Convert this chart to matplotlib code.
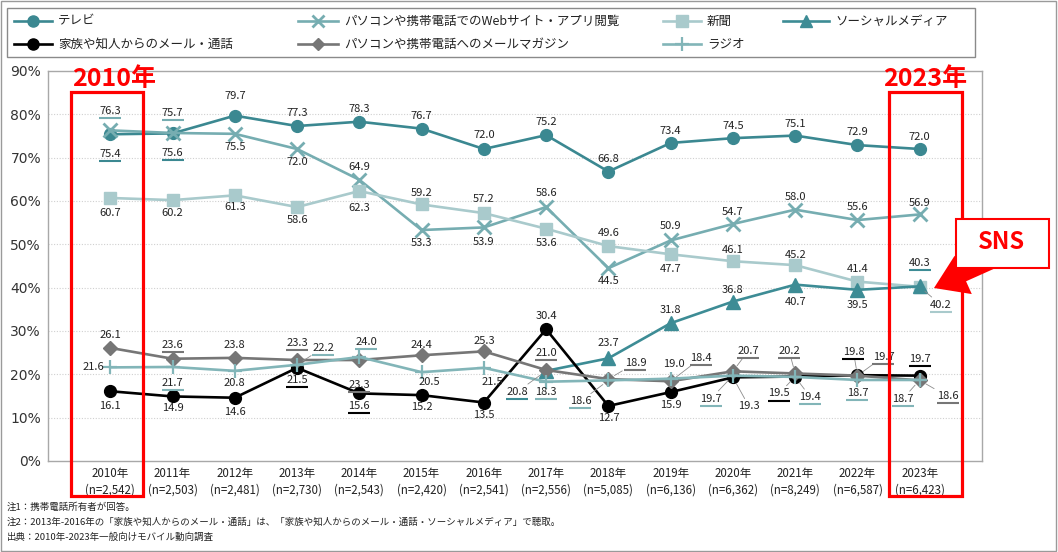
import numpy as np
import matplotlib.pyplot as plt
import matplotlib.transforms as mtransforms
from matplotlib.patches import Rectangle, FancyArrow
from matplotlib.lines import Line2D

plt.rcParams['font.family'] = ['Noto Sans CJK JP', 'DejaVu Sans']

# -----------------------------
# データ
# -----------------------------
years = ['2010年', '2011年', '2012年', '2013年', '2014年', '2015年', '2016年',
         '2017年', '2018年', '2019年', '2020年', '2021年', '2022年', '2023年']
samples = ['(n=2,542)', '(n=2,503)', '(n=2,481)', '(n=2,730)', '(n=2,543)',
           '(n=2,420)', '(n=2,541)', '(n=2,556)', '(n=5,085)', '(n=6,136)',
           '(n=6,362)', '(n=8,249)', '(n=6,587)', '(n=6,423)']

tv = [75.4, 75.6, 79.7, 77.3, 78.3, 76.7, 72.0, 75.2, 66.8, 73.4, 74.5, 75.1, 72.9, 72.0]
web = [76.3, 75.7, 75.5, 72.0, 64.9, 53.3, 53.9, 58.6, 44.5, 50.9, 54.7, 58.0, 55.6, 56.9]
paper = [60.7, 60.2, 61.3, 58.6, 62.3, 59.2, 57.2, 53.6, 49.6, 47.7, 46.1, 45.2, 41.4, 40.2]
sns_start = 7  # 2017年から
sns = [20.8, 23.7, 31.8, 36.8, 40.7, 39.5, 40.3]
mail = [16.1, 14.9, 14.6, 21.5, 15.6, 15.2, 13.5, 30.4, 12.7, 15.9, 19.3, 19.5, 19.8, 19.7]
magazine = [26.1, 23.6, 23.8, 23.3, 23.3, 24.4, 25.3, 21.0, 18.9, 18.4, 20.7, 20.2, 19.7, 18.6]
radio = [21.6, 21.7, 20.8, 22.2, 24.0, 20.5, 21.5, 18.3, 18.6, 19.0, 19.7, 19.4, 18.7, 18.7]

names = ['テレビ', 'パソコンや携帯電話でのWebサイト・アプリ閲覧', '新聞', 'ソーシャルメディア',
         '家族や知人からのメール・通話', 'パソコンや携帯電話へのメールマガジン', 'ラジオ']

notes = ['注1：携帯電話所有者が回答。',
         '注2：2013年-2016年の「家族や知人からのメール・通話」は、「家族や知人からのメール・通話・ソーシャルメディア」で聴取。',
         '出典：2010年-2023年一般向けモバイル動向調査']

# -----------------------------
# 色・マーカー
# -----------------------------
c_tv = '#3b8891'
c_web = '#76adb1'
c_paper = '#a9cacc'
c_sns = '#3d8c95'
c_mail = '#000000'
c_mag = '#767676'
c_radio = '#82b5b8'

# ラベル位置（点からのピクセルずれ）、下線、引き出し線
tv_off = [(0, -20), (0, -20), (0, 20), (0, 13), (0, 13), (0, 13), (0, 14),
          (0, 13), (0, 13), (0, 12), (0, 12), (0, 12), (0, 13), (0, 12)]
web_off = [(0, 19), (0, 20), (0, -13), (0, -13), (0, 13), (0, -13), (0, -15),
           (0, 14), (0, -13), (0, 14), (0, 12), (0, 13), (0, 13), (0, 11)]
paper_off = [(0, -15), (0, -13), (0, -12), (0, -13), (0, -17), (0, 11), (0, 14),
             (0, -14), (0, 13), (0, -15), (0, 11), (0, 10), (0, 13), (21, -18)]
sns_off = [(-29, -21), (0, 15), (0, 13), (0, 12), (0, -17), (0, -15), (0, 23)]
mail_off = [(0, -15), (0, -12), (0, -14), (0, -12), (0, -13), (0, -12), (0, -13),
            (0, 13), (0, -12), (0, -13), (16, -29), (-16, -17), (-4, 23), (0, 17)]
mag_off = [(0, 13), (0, 14), (0, 13), (0, 17), (0, -25), (0, 10), (0, 10),
           (0, 17), (27, 16), (30, 23), (15, 20), (-6, 22), (26, 19), (28, -16)]
radio_off = [(-17, 0), (0, -16), (0, -12), (26, 17), (7, 15), (8, -10), (8, -14),
             (0, -10), (-28, -21), (3, 15), (-22, -23), (15, -20), (0, -13), (-17, -19)]

tv_ul, tv_ld = {0, 1}, set()
web_ul, web_ld = {0, 1}, set()
paper_ul, paper_ld = {13}, {13}
sns_ul, sns_ld = {0, 6}, {0}
mail_ul, mail_ld = {3, 4, 11, 12, 13}, {10, 11, 12}
mag_ul, mag_ld = {1, 3, 4, 7, 8, 9, 10, 11, 12, 13}, {8, 9, 10, 11, 12, 13}
radio_ul, radio_ld = {1, 3, 4, 7, 8, 10, 11, 12, 13}, {3, 8, 10, 11, 13}

W, H = 1058, 552
fig = plt.figure(figsize=(W / 100, H / 100), dpi=100)
ax = fig.add_axes([48 / W, 1 - 461 / H, (982 - 48) / W, (461 - 71) / H])

x = np.arange(len(years))
xs = x[sns_start:]

ax.set_xlim(-1, 14)
ax.set_ylim(0, 90)
ax.set_yticks(np.arange(0, 91, 10))
ax.set_yticklabels([f'{v}%' for v in range(0, 91, 10)], fontsize=10,
                   family='DejaVu Sans', color='#333333')
ax.set_xticks(x)
ax.set_xticklabels([f'{a}\n{b}' for a, b in zip(years, samples)], fontsize=8.3,
                   color='#222222', linespacing=1.35)
ax.tick_params(length=0, pad=4)
ax.tick_params(axis='y', pad=5)
for s in ax.spines.values():
    s.set_color('#a8a8a8')
    s.set_linewidth(1)
for v in range(10, 90, 10):
    ax.axhline(v, color='#d0d0d0', lw=0.8, ls=(0, (1, 1.5)), zorder=0)

# -----------------------------
# 折れ線
# -----------------------------
lw = 1.9
ax.plot(x, tv, color=c_tv, lw=lw, marker='o', ms=8.5, zorder=3)
ax.plot(x, web, color=c_web, lw=lw, marker='x', ms=10, mew=2, zorder=3)
ax.plot(x, paper, color=c_paper, lw=lw, marker='s', ms=8.5, zorder=3)
ax.plot(xs, sns, color=c_sns, lw=lw, marker='^', ms=9.5, zorder=3)
ax.plot(x, mail, color=c_mail, lw=lw, marker='o', ms=8.5, zorder=3)
ax.plot(x, magazine, color=c_mag, lw=lw, marker='D', ms=7, zorder=3)
ax.plot(x, radio, color=c_radio, lw=lw, marker='+', ms=10, mew=1.6, zorder=3)


def put_labels(xv, vals, offs, uls, leads, color):
    for i, (xi, v, (dx, dy)) in enumerate(zip(xv, vals, offs)):
        kw = {}
        if i in leads:
            kw['arrowprops'] = dict(arrowstyle='-', color='#8c8c8c', lw=0.6,
                                    shrinkA=0, shrinkB=5)
        ax.annotate(f'{v:.1f}', xy=(xi, v), xytext=(dx, dy), textcoords='offset pixels',
                    ha='center', va='center', fontsize=8, color='#222222', zorder=6, **kw)
        if i in uls:
            tr = mtransforms.offset_copy(ax.transData, fig=fig, x=dx, y=dy - 7, units='dots')
            ax.plot([xi], [v], marker='_', ms=16, mew=1.5, color=color,
                    transform=tr, clip_on=False, zorder=6)


put_labels(x, tv, tv_off, tv_ul, tv_ld, c_tv)
put_labels(x, web, web_off, web_ul, web_ld, c_web)
put_labels(x, paper, paper_off, paper_ul, paper_ld, c_paper)
put_labels(xs, sns, sns_off, sns_ul, sns_ld, c_sns)
put_labels(x, mail, mail_off, mail_ul, mail_ld, c_mail)
put_labels(x, magazine, mag_off, mag_ul, mag_ld, c_mag)
put_labels(x, radio, radio_off, radio_ul, radio_ld, c_radio)

# -----------------------------
# 凡例（手描き）
# -----------------------------
def fx(px):
    return px / W


def fy(py):
    return 1 - py / H


fig.add_artist(Rectangle((fx(7), fy(57)), fx(975) - fx(7), fy(8) - fy(57),
                         transform=fig.transFigure, fill=False, ec='#8a8a8a', lw=1))
leg = [
    (names[0], c_tv, 'o', 8, 1, (14, 52), 21),
    (names[1], c_web, 'x', 9, 2, (298, 338), 21),
    (names[2], c_paper, 's', 8, 1, (663, 701), 21),
    (names[3], c_sns, '^', 9, 1, (783, 829), 21),
    (names[4], c_mail, 'o', 8, 1, (14, 52), 44),
    (names[5], c_mag, 'D', 6.5, 1, (298, 338), 44),
    (names[6], c_radio, '+', 10, 1.6, (663, 701), 44),
]
for lab, col, mk, ms, mew, (x0, x1), yy in leg:
    fig.add_artist(Line2D([fx(x0), fx(x1)], [fy(yy), fy(yy)], color=col, lw=lw,
                          transform=fig.transFigure))
    fig.add_artist(Line2D([fx((x0 + x1) / 2)], [fy(yy)], color=col, marker=mk, ms=ms,
                          mew=mew, transform=fig.transFigure))
    fig.text(fx(x1 + 6), fy(yy), lab, fontsize=9, va='center', ha='left', color='#222222')

# -----------------------------
# 強調（赤枠・SNS）
# -----------------------------
for x0, x1, lab, cx in [(71, 143, '2010年', 114), (889, 962, '2023年', 925)]:
    fig.add_artist(Rectangle((fx(x0), fy(496)), fx(x1) - fx(x0), fy(92) - fy(496),
                             transform=fig.transFigure, fill=False, ec='#ff0000',
                             lw=2.3, zorder=8))
    fig.text(fx(cx), fy(79), lab, fontsize=18, fontweight='bold', color='#ff0000',
             ha='center', va='center', zorder=8)

arrow = FancyArrow(992, H - 262, -58, -26, width=14, head_width=42, head_length=32,
                   length_includes_head=True, color='#ff0000', lw=0,
                   transform=mtransforms.IdentityTransform(), zorder=9)
fig.add_artist(arrow)
fig.add_artist(Rectangle((fx(956), fy(268)), fx(1049) - fx(956), fy(219) - fy(268),
                         transform=fig.transFigure, fc='white', ec='#ff0000', lw=1.5,
                         zorder=10))
fig.text(fx(1002), fy(242), 'SNS', fontsize=17, fontweight='bold', color='#ff0000',
         ha='center', va='center', zorder=11)

# 注記
for i, t in enumerate(notes):
    fig.text(fx(7), fy(507 + 15 * i), t, fontsize=6.8, va='center', ha='left',
             color='#222222')

# 外枠
fig.add_artist(Rectangle((0.0005, 0.001), 0.998, 0.997, transform=fig.transFigure,
                         fill=False, ec='#9a9a9a', lw=1))

fig.savefig('out.png', dpi=100)
